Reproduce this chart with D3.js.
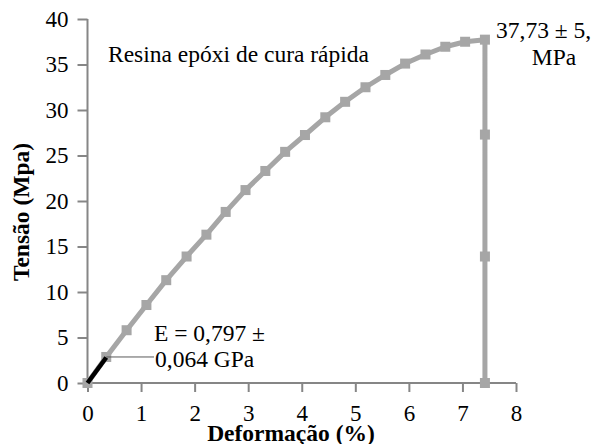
<!DOCTYPE html>
<html>
<head>
<meta charset="utf-8">
<script src="https://cdn.jsdelivr.net/npm/d3@7"></script>
<style>
  body { margin: 0; background: #fff; }
  svg text { font-family: "Liberation Serif", "Times New Roman", serif; fill: #000; }
</style>
</head>
<body>
<svg id="chart" width="596" height="444"></svg>
<script>
// curva tensão x deformação
let strain = [0, 0.35, 0.73, 1.10, 1.47, 1.85, 2.22, 2.58, 2.95, 3.32, 3.69, 4.06, 4.44, 4.81, 5.19, 5.56, 5.93, 6.31, 6.68, 7.05, 7.42, 7.42, 7.42, 7.42];
let stress = [0, 2.86, 5.8, 8.57, 11.3, 13.9, 16.3, 18.8, 21.2, 23.3, 25.4, 27.25, 29.2, 30.9, 32.5, 33.85, 35.1, 36.1, 36.95, 37.5, 37.73, 27.3, 13.9, 0];
// trecho linear usado para o módulo
let fitStrain = [0, 0.35];
let fitStress = [0, 2.8];
let xTicks = [0, 1, 2, 3, 4, 5, 6, 7, 8];
let yTicks = [0, 5, 10, 15, 20, 25, 30, 35, 40];

let svg = d3.select("#chart");
let x = d3.scaleLinear().domain([0, 8]).range([87.5, 516]);
let y = d3.scaleLinear().domain([0, 40]).range([383, 19]);

let axisColor = "#868686";

let xAxis = svg.append("g")
  .attr("transform", `translate(0,${y(0)})`)
  .call(d3.axisBottom(x).tickValues(xTicks).tickSize(9).tickPadding(13).tickFormat(d3.format("d")));
let yAxis = svg.append("g")
  .attr("transform", `translate(${x(0)},0)`)
  .call(d3.axisLeft(y).tickValues(yTicks).tickSize(10).tickPadding(9).tickFormat(d3.format("d")));

[xAxis, yAxis].forEach(function(a){
  a.attr("font-family", null);
  a.select(".domain").attr("stroke", axisColor).attr("stroke-width", 2);
  a.selectAll(".tick line").attr("stroke", axisColor).attr("stroke-width", 2);
  a.selectAll(".tick text")
   .style("font-family", '"Liberation Serif", serif')
   .style("font-size", "23px")
   .attr("fill", "#000");
});
// axis path without the outer tick caps
xAxis.select(".domain").attr("d", `M${x(0)},0H${x(8)}`);
yAxis.select(".domain").attr("d", `M0,${y(0)}V${y(40)}`);

let pts = strain.map((d, i) => [d, stress[i]]);
let line = d3.line().x(d => x(d[0])).y(d => y(d[1]));

svg.append("path")
   .datum(pts)
   .attr("d", line)
   .attr("fill", "none")
   .attr("stroke", "#a6a6a6")
   .attr("stroke-width", 5)
   .attr("stroke-linejoin", "round");

svg.selectAll("rect.mk")
   .data(pts)
   .enter()
   .append("rect")
   .attr("class", "mk")
   .attr("x", d => x(d[0]) - 5)
   .attr("y", d => y(d[1]) - 5)
   .attr("width", 10)
   .attr("height", 10)
   .attr("fill", "#a6a6a6");

svg.append("path")
   .datum(fitStrain.map((d, i) => [d, fitStress[i]]))
   .attr("d", line)
   .attr("stroke", "#000")
   .attr("stroke-width", 4.5)
   .attr("fill", "none");

// leader line for the modulus label
svg.append("line")
   .attr("x1", x(fitStrain[1]))
   .attr("x2", 154)
   .attr("y1", y(stress[1]))
   .attr("y2", y(stress[1]))
   .attr("stroke", "#595959")
   .attr("stroke-width", 1);

function label(txt, px, py, size, anchor, weight){
  return svg.append("text")
    .attr("x", px)
    .attr("y", py)
    .attr("text-anchor", anchor || "start")
    .style("font-size", size + "px")
    .style("font-weight", weight || "normal")
    .text(txt);
}

label("Resina epóxi de cura rápida", 108, 62, 23.5);
label("E = 0,797 ±", 154, 341, 23.5);
label("0,064 GPa", 155, 367, 23.5);
label("37,73 ± 5,", 496, 38, 23.5);
label("MPa", 554, 65, 23.5, "middle");

label("Deformação (%)", 291, 441, 23.5, "middle", "bold");
svg.append("text")
   .attr("transform", `translate(28.5,212) rotate(-90)`)
   .attr("text-anchor", "middle")
   .style("font-size", "23.5px")
   .style("font-weight", "bold")
   .text("Tensão (Mpa)");
</script>
</body>
</html>
